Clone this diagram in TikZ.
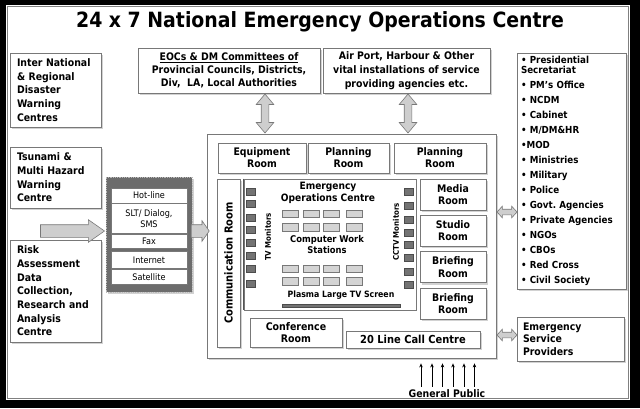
\documentclass[tikz,border=0pt]{standalone}
\usepackage{fontspec}
\setmainfont{DejaVu Sans Condensed}[BoldFont={DejaVu Sans Condensed Bold}]
\usetikzlibrary{positioning,arrows.meta,calc,shapes.arrows,shadows}
\definecolor{EdgeGray}{RGB}{120,120,120}
\definecolor{ArrowGray}{RGB}{206,206,206}
\definecolor{PanelGray}{RGB}{108,108,108}
\definecolor{ScreenGray}{RGB}{115,115,115}
\definecolor{DeskGray}{RGB}{212,212,212}
\newcommand{\txtsize}[2]{\fontsize{#1}{#2}\selectfont}

\begin{document}
\begin{tikzpicture}[x=1pt, y=-1pt,
  every node/.style={font=\bfseries\txtsize{10.4}{13.7}, align=center, inner sep=0pt},
  panel/.style={draw=EdgeGray, fill=white, line width=0.8pt,
    drop shadow={shadow xshift=2pt, shadow yshift=-2pt, opacity=0.35}},
  room/.style={panel, font=\bfseries\txtsize{10.4}{12.2}},
  sidebox/.style={panel, align=left, text width=77, inner xsep=7},
  linkcell/.style={draw=EdgeGray, fill=white, line width=0.6pt, minimum width=76, font=\txtsize{9}{10.5}},
  blockarrow/.style={single arrow, draw=EdgeGray, fill=ArrowGray, line width=0.6pt},
  twoway/.style={double arrow, draw=EdgeGray, fill=ArrowGray, line width=0.6pt},
  monitor/.style={draw=black!70, fill=ScreenGray, line width=0.5pt, minimum width=9, minimum height=7},
  desk/.style={draw=EdgeGray, fill=DeskGray, line width=0.5pt, minimum width=16, minimum height=7.5}]

  % frame
  \fill[black] (0,0) rectangle (640,408);
  \fill[white] (6,5) rectangle (630,400);
  \draw[gray, line width=0.5pt] (7.5,6.5) rectangle (628.5,398.5);

  \node[font=\bfseries\txtsize{21}{24}] (title) at (320,22) {24 x 7 National Emergency Operations Centre};

  % agencies round the centre
  \node[sidebox, minimum height=74] (intl) at (55.5,90) {Inter National\\\& Regional\\Disaster\\Warning\\Centres};
  \node[sidebox, minimum height=61] (tsunami) at (55.5,177.5) {Tsunami \&\\Multi Hazard\\Warning\\Centre};
  \node[sidebox, minimum height=102] (risk) at (55.5,291) {Risk\\Assessment\\Data\\Collection,\\Research and\\Analysis\\Centre};
  \node[panel, minimum width=182, minimum height=45, font=\bfseries\txtsize{10.4}{13}] (eocs) at (229,70.5)
    {\underline{EOCs \& DM Committees of}\\Provincial Councils, Districts,\\Div,\ \ LA, Local Authorities};
  \node[panel, minimum width=167, minimum height=45, font=\bfseries\txtsize{10.4}{14}] (ports) at (406.5,70.5)
    {Air Port, Harbour \& Other\\vital installations of service\\providing agencies etc.};
  \node[sidebox, text width=101, inner xsep=4, minimum height=236, font=\bfseries\txtsize{9.7}{15}] (agencies) at (571.5,171)
    {• Presidential\\[-4.3pt]Secretariat\\• PM’s Office\\• NCDM\\• Cabinet\\• M/DM\&HR\\•MOD\\• Ministries\\• Military\\• Police\\• Govt.\ Agencies\\• Private Agencies\\• NGOs\\• CBOs\\• Red Cross\\• Civil Society};
  \node[sidebox, text width=95, inner xsep=6, minimum height=44, font=\bfseries\txtsize{10.4}{12.7}] (esp) at (570.5,339) {Emergency\\Service\\Providers};

  % communication links
  \node[draw=gray!55, densely dotted, fill=PanelGray, line width=0.8pt, minimum width=86, minimum height=115,
    drop shadow={shadow xshift=2pt, shadow yshift=-2pt, opacity=0.35}] (links) at (149,234.5) {};
  \node[linkcell, minimum height=15, below=11pt of links.north] (hotline) {Hot-line};
  \node[linkcell, minimum height=30, below=0pt of hotline] (slt) {SLT/ Dialog,\\SMS};
  \node[linkcell, minimum height=14, below=0pt of slt] (fax) {Fax};
  \node[linkcell, minimum height=17, below=3pt of fax] (internet) {Internet};
  \node[linkcell, minimum height=15, below=0pt of internet] (satellite) {Satellite};

  % operations centre
  \node[panel, minimum width=289, minimum height=224] (main) at (351.5,246) {};
  \node[room, minimum width=88, minimum height=30] (equip) at (262,158) {Equipment\\Room};
  \node[room, minimum width=81, minimum height=30] (plan1) at (348.5,158) {Planning\\Room};
  \node[room, minimum width=92, minimum height=30] (plan2) at (440,158) {Planning\\Room};
  \node[room, minimum width=23, minimum height=168] (comm) at (228.5,263) {};
  \node[rotate=90, font=\bfseries\txtsize{11}{12}] (commlabel) at (comm.center) {Communication Room};
  \node[room, minimum width=66, minimum height=31] (media) at (453,194.5) {Media\\Room};
  \node[room, minimum width=66, minimum height=31, below=4.5pt of media] (studio) {Studio\\Room};
  \node[room, minimum width=66, minimum height=31, below=4.5pt of studio] (brief1) {Briefing\\Room};
  \node[room, minimum width=66, minimum height=31, below=4.5pt of brief1] (brief2) {Briefing\\Room};
  \node[room, minimum width=92, minimum height=29, font=\bfseries\txtsize{10.5}{12.5}] (conf) at (296,332.5) {Conference\\Room};
  \node[room, minimum width=134, minimum height=17, font=\bfseries\txtsize{11}{12}] (callcentre) at (413,339.5) {20 Line Call Centre};

  % EOC floor
  \node[draw=EdgeGray, fill=white, line width=0.8pt, minimum width=172, minimum height=131] (eoc) at (330,244.5) {};
  \draw[EdgeGray!70!black, line width=1.6pt] (eoc.north west) -- (eoc.south west);
  \node[font=\bfseries\txtsize{10.1}{12}] (eoctitle) at (328,193) {Emergency\\Operations Centre};
  \foreach \x [count=\i] in {290,311,331.5,354.5}
    \foreach \y [count=\j] in {213.5,227,268.5,281}
      \node[desk] (desk\i\j) at (\x,\y) {};
  \node[font=\bfseries\txtsize{9.3}{11}] (desklabel) at (327,245) {Computer Work\\Stations};
  \foreach \y [count=\k] in {192,204,218,230,243,256,269,284}
    \node[monitor] (tv\k) at (250.5,\y) {};
  \foreach \y [count=\k] in {192,206,220,233,245,258,272,285}
    \node[monitor] (cctv\k) at (408.5,\y) {};
  \node[rotate=90, font=\bfseries\txtsize{7.8}{9}] (tvlabel) at (268,237) {TV Monitors};
  \node[rotate=90, font=\bfseries\txtsize{7.8}{9}] (cctvlabel) at (396,232) {CCTV Monitors};
  \node[font=\bfseries\txtsize{8.7}{10}] (plasmalabel) at (341,295) {Plasma Large TV Screen};
  \node[fill=ScreenGray, draw=black!70, line width=0.5pt, minimum width=118, minimum height=3.5] (plasma) at (341,305.5) {};

  % block arrows
  \node[blockarrow, minimum height=64, inner ysep=6, single arrow head extend=5, single arrow tip angle=70] (warnfeed) at (68,231) {};
  \node[blockarrow, minimum height=18, inner ysep=6, single arrow head extend=4, single arrow tip angle=110] (linkfeed) at (198,231) {};
  \node[twoway, rotate=90, minimum height=39, inner ysep=3.5, double arrow head extend=5, double arrow tip angle=80] (eocslink) at (265,113.5) {};
  \node[twoway, rotate=90, minimum height=39, inner ysep=3.5, double arrow head extend=5, double arrow tip angle=80] (portslink) at (408,113.5) {};
  \node[twoway, minimum height=20, inner ysep=2.5, double arrow head extend=3, double arrow tip angle=95] (agencylink) at (507,212) {};
  \node[twoway, minimum height=20, inner ysep=2.5, double arrow head extend=3, double arrow tip angle=95] (esplink) at (507,335) {};

  % public calls
  \node[font=\bfseries\txtsize{10.4}{12}] (public) at (447,394) {General Public};
  \foreach \x in {421,432,442.5,453,464,474.5} {
    \coordinate (callx) at (\x,0);
    \draw[-{Stealth[length=4pt,width=3.5pt]}, line width=0.7pt, shorten <=3pt, shorten >=5pt]
      (public.north -| callx) -- (main.south -| callx);
  }
\end{tikzpicture}
\end{document}
